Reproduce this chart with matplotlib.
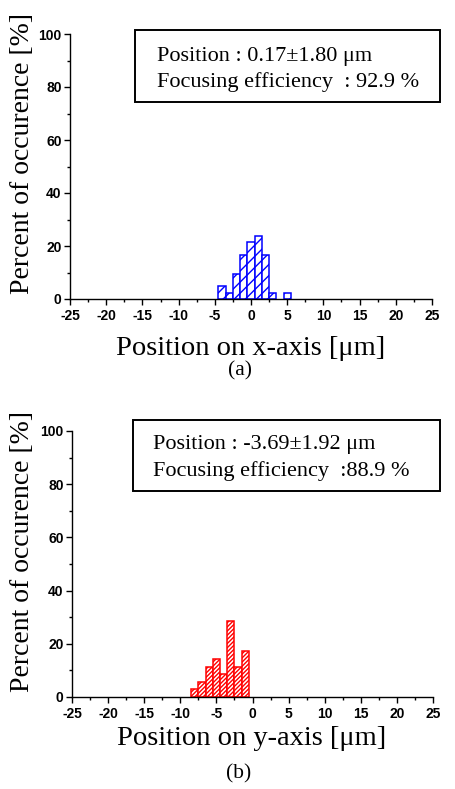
"""Beam-position histograms on x- and y-axis (two stacked panels)."""

import matplotlib

matplotlib.use("Agg")
import matplotlib.patches as mpatches
import matplotlib.pyplot as plt
from matplotlib.ticker import MultipleLocator

# ---- data (percent of occurrence per 1 um bin) ----
x_bins = [-4, -3, -2, -1, 0, 1, 2, 3, 5]
x_percent = [4.76, 2.38, 9.52, 16.67, 21.43, 23.81, 16.67, 2.38, 2.38]

y_bins = [-8, -7, -6, -5, -4, -3, -2, -1]
y_percent = [2.86, 5.71, 11.43, 14.29, 8.57, 28.57, 11.43, 17.14]

x_stats = ["Position : 0.17\u00b11.80 \u03bcm", "Focusing efficiency  : 92.9 %"]
y_stats = ["Position : -3.69\u00b11.92 \u03bcm", "Focusing efficiency  :88.9 %"]

SERIF = ["Liberation Serif", "DejaVu Serif"]
plt.rcParams["font.family"] = ["Liberation Sans", "DejaVu Sans"]
plt.rcParams["axes.unicode_minus"] = False

W, H = 456, 789


def fx(px):
    return px / W


def fy(py):
    return 1 - py / H


def style_axes(ax):
    ax.set_xlim(-25, 25)
    ax.set_ylim(0, 100)
    ax.spines["top"].set_visible(False)
    ax.spines["right"].set_visible(False)
    for s in ("left", "bottom"):
        ax.spines[s].set_linewidth(1.0)
    ax.xaxis.set_major_locator(MultipleLocator(5))
    ax.xaxis.set_minor_locator(MultipleLocator(2.5))
    ax.yaxis.set_major_locator(MultipleLocator(20))
    ax.yaxis.set_minor_locator(MultipleLocator(10))
    ax.tick_params(which="major", direction="out", length=4.5, width=1,
                   labelsize=10)
    ax.tick_params(axis="x", which="major", pad=3)
    ax.tick_params(axis="y", which="major", pad=1.5)
    ax.tick_params(which="minor", direction="out", length=2.5, width=1)
    for lab in ax.get_xticklabels() + ax.get_yticklabels():
        lab.set_fontweight("bold")


def stats_box(fig, box_px, text_x, baselines, lines):
    x0, y0, x1, y1 = box_px
    fig.patches.append(
        mpatches.Rectangle(
            (fx(x0), fy(y1)), fx(x1) - fx(x0), fy(y0) - fy(y1),
            transform=fig.transFigure, fill=False, edgecolor="black",
            linewidth=1.4,
        )
    )
    for line, yb in zip(lines, baselines):
        fig.text(fx(text_x), fy(yb), line, family=SERIF, fontsize=16,
                 ha="left", va="baseline")


fig = plt.figure(figsize=(W / 100, H / 100), dpi=100)

# top panel: x-axis
ax1 = fig.add_axes([fx(70), fy(299), fx(432) - fx(70), fy(34) - fy(299)])
ax1.bar(x_bins, x_percent, width=1.0, facecolor="white", edgecolor="#0000ff",
        hatch="///", linewidth=1.1)
style_axes(ax1)

# bottom panel: y-axis
ax2 = fig.add_axes([fx(72), fy(697), fx(433) - fx(72), fy(431) - fy(697)])
ax2.bar(y_bins, y_percent, width=1.0, facecolor="white", edgecolor="#ff0000",
        hatch="////////", linewidth=1.1)
style_axes(ax2)

# axis labels
fig.text(fx(251), fy(355), "Position on x-axis [\u03bcm]", family=SERIF,
         fontsize=20.5, ha="center", va="baseline")
fig.text(fx(252), fy(745), "Position on y-axis [\u03bcm]", family=SERIF,
         fontsize=20.5, ha="center", va="baseline")
fig.text(fx(23), fy(154), "Percent of occurence [%]", family=SERIF,
         fontsize=20, rotation=90, ha="center", va="center")
fig.text(fx(23), fy(552), "Percent of occurence [%]", family=SERIF,
         fontsize=20, rotation=90, ha="center", va="center")
fig.text(fx(240), fy(375), "(a)", family=SERIF, fontsize=15.5,
         ha="center", va="baseline")
fig.text(fx(239), fy(778), "(b)", family=SERIF, fontsize=15.5,
         ha="center", va="baseline")

stats_box(fig, (135, 30, 440, 102), 156.7, (60.7, 86.7), x_stats)
stats_box(fig, (133, 420, 440, 491), 152.7, (449, 475.7), y_stats)

fig.savefig("out.png", dpi=100, facecolor="white")
